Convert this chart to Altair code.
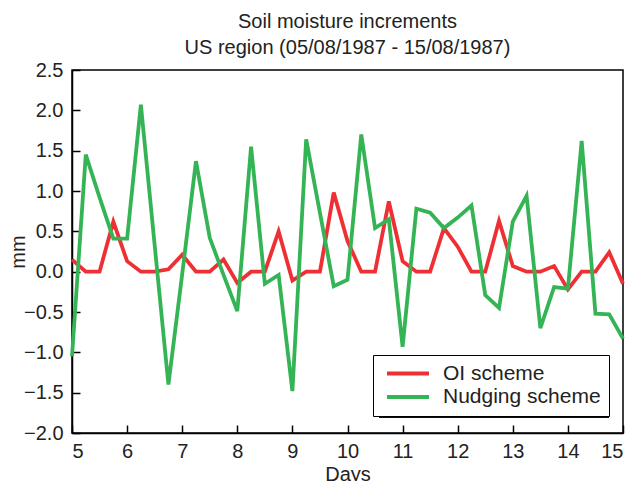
import altair as alt
import pandas as pd

days = [5.0 + 0.25 * i for i in range(41)]
oi_scheme = [0.15, 0, 0, 0.62, 0.13, 0, 0, 0.03, 0.21, 0, 0, 0.15, -0.14, 0, 0, 0.50,
             -0.11, 0, 0, 0.98, 0.38, 0, 0, 0.87, 0.13, 0, 0, 0.54, 0.31, 0, 0, 0.63,
             0.07, 0, 0, 0.07, -0.22, 0, 0, 0.24, -0.15]
nudging_scheme = [-1.05, 1.45, 0.92, 0.41, 0.41, 2.07, 0.33, -1.40, -0.03, 1.37, 0.42,
                  -0.04, -0.49, 1.55, -0.15, -0.04, -1.48, 1.64, 0.73, -0.18, -0.10,
                  1.70, 0.54, 0.65, -0.93, 0.78, 0.73, 0.54, 0.67, 0.82, -0.29, -0.45,
                  0.62, 0.94, -0.70, -0.19, -0.21, 1.62, -0.52, -0.53, -0.83]
series_names = ["OI scheme", "Nudging scheme"]
series_colors = ["#ee3034", "#35b456"]
x_ticks = list(range(5, 16))
y_ticks = [-2.0, -1.5, -1.0, -0.5, 0.0, 0.5, 1.0, 1.5, 2.0, 2.5]

rows = []
for name, vals in zip(series_names, [oi_scheme, nudging_scheme]):
    for d, v in zip(days, vals):
        rows.append({"day": d, "value": v, "series": name})
df = pd.DataFrame(rows)

FONT = "Liberation Sans"
W, H = 551, 363

xscale = alt.Scale(domain=[5, 15], nice=False, zero=False)
yscale = alt.Scale(domain=[-2.0, 2.5], nice=False, zero=False)

color = alt.Color(
    "series:N",
    sort=series_names,
    scale=alt.Scale(domain=series_names, range=series_colors),
    legend=alt.Legend(
        title=None, orient="none", legendX=301, legendY=285,
        fillColor="white", strokeColor="black", padding=8,
        symbolType="stroke", symbolSize=1764, symbolStrokeWidth=4, symbolOffset=4,
        labelFontSize=21, labelFont=FONT, labelColor="#222222",
        labelOffset=12, clipHeight=21, rowPadding=1.4,
    ),
)

lines = alt.Chart(df).mark_line(strokeWidth=3.8).encode(
    x=alt.X("day:Q", scale=xscale,
            axis=alt.Axis(orient="bottom", values=x_ticks, format="d", ticks=False,
                          title="Days", labelPadding=8,
                          titleBaseline="alphabetic", titleX=W / 2, titleY=47,
                          grid=False, domainColor="black", domainWidth=1.5)),
    y=alt.Y("value:Q", scale=yscale,
            axis=alt.Axis(orient="left", values=y_ticks, format=".1f", ticks=False,
                          title="mm", labelPadding=9,
                          titleBaseline="alphabetic", titleX=-48, titleY=H / 2,
                          grid=False, domainColor="black", domainWidth=1.5)),
    color=color,
)

tick_layer = alt.Chart(df).mark_line(opacity=0).encode(
    x=alt.X("day:Q", scale=xscale,
            axis=alt.Axis(orient="top", offset=-H, values=x_ticks, labels=False,
                          domain=False, ticks=True, tickSize=8, tickWidth=1.5,
                          tickColor="black", title=None, grid=False)),
    y=alt.Y("value:Q", scale=yscale,
            axis=alt.Axis(orient="right", offset=-W, values=y_ticks, labels=False,
                          domain=False, ticks=True, tickSize=8, tickWidth=1.5,
                          tickColor="black", title=None, grid=False)),
    detail="series:N",
)

shadow = alt.Chart(alt.Data(values=[{}])).mark_rect(color="#111111").encode(
    x=alt.value(307), x2=alt.value(537), y=alt.value(291), y2=alt.value(348)
)

chart = alt.layer(shadow, tick_layer, lines).resolve_axis(
    x="independent", y="independent"
).properties(
    width=W, height=H,
    title=alt.TitleParams(
        text=["Soil moisture increments", "US region (05/08/1987 - 15/08/1987)"],
        font=FONT, fontSize=20, fontWeight="normal", color="#222222",
        anchor="middle", offset=2, lineHeight=26,
    ),
    autosize=alt.AutoSizeParams(type="none"),
    padding={"left": 72, "top": 70, "right": 14, "bottom": 48},
).configure_view(
    stroke="black", strokeWidth=1.5
).configure_axis(
    labelFont=FONT, labelFontSize=20, labelColor="#222222",
    titleFont=FONT, titleFontSize=20, titleFontWeight="normal", titleColor="#222222",
)

chart.save("out.html", embed_options={"renderer": "svg", "actions": False})
